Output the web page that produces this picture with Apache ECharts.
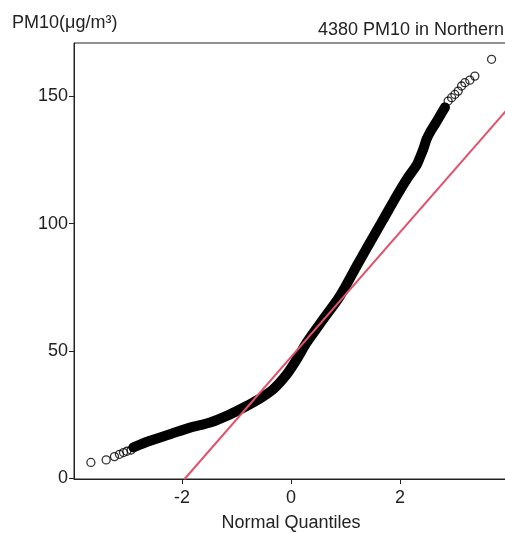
<!DOCTYPE html>
<html>
<head>
<meta charset="utf-8">
<script src="https://cdn.jsdelivr.net/npm/echarts@6/dist/echarts.min.js"></script>
<style>
  html, body { margin: 0; padding: 0; background: #fff; }
  #chart { width: 505px; height: 533px; }
</style>
</head>
<body>
<div id="chart"></div>
<script>
// theoretical normal quantiles (x) and sorted PM10 values (y)
const lowTailQ = [-3.675, -3.394, -3.242, -3.150, -3.077, -3.015, -2.936]
const lowTailPM = [6.2, 7.2, 8.5, 9.4, 10.1, 10.6, 11.1]

const bandQ = [-2.894, -2.587, -2.220, -1.853, -1.486, -1.119, -0.813, -0.569, -0.325, -0.079,
  0.105, 0.288, 0.593, 0.899, 1.206, 1.450, 1.694, 1.939, 2.123, 2.306, 2.354,
  2.428, 2.490, 2.550, 2.642, 2.734, 2.826]
const bandPM = [12.1, 14.7, 17.3, 19.9, 21.9, 25.1, 28.4, 31.3, 35.0, 40.8,
  46.7, 53.3, 62.5, 71.6, 83.4, 92.6, 101.7, 110.9, 117.4, 123.0, 125.3,
  129.2, 133.2, 135.8, 139.0, 142.3, 145.7]

const highTailQ = [2.886, 2.949, 3.009, 3.070, 3.132, 3.193, 3.284, 3.376, 3.683]
const highTailPM = [148.2, 149.5, 150.8, 152.1, 154.1, 155.4, 156.4, 158.0, 164.6]

// qqline end points
const lineQ = [-1.959, 3.985]
const linePM = [-0.4, 145.2]

const xTicks = [-2, 0, 2]
const yTicks = [0, 50, 100, 150]

const zip = (a, b) => a.map((v, i) => [v, b[i]])

const allPoints = zip(lowTailQ, lowTailPM)
  .concat(zip(bandQ, bandPM))
  .concat(zip(highTailQ, highTailPM))

const font = 'Liberation Sans, Arial, sans-serif'
const ink = '#222'

const chart = echarts.init(document.getElementById('chart'), null, { renderer: 'canvas' })

chart.setOption({
  animation: false,
  backgroundColor: '#fff',
  title: [
    {
      text: 'PM10(μg/m³)',
      left: 12,
      top: 14,
      padding: 0,
      textStyle: { fontFamily: font, fontSize: 18, fontWeight: 'normal', color: ink }
    },
    {
      text: '4380 PM10 in Northern',
      left: 318,
      top: 21,
      padding: 0,
      textStyle: { fontFamily: font, fontSize: 18, fontWeight: 'normal', color: ink }
    }
  ],
  grid: {
    left: 74,
    top: 43,
    width: 434,
    height: 436,
    show: true,
    borderColor: ink,
    borderWidth: 1,
    containLabel: false,
    outerBoundsMode: 'none'
  },
  xAxis: {
    type: 'value',
    min: -3.985,
    max: 3.985,
    name: 'Normal Quantiles',
    nameLocation: 'middle',
    nameGap: 35,
    nameTextStyle: { fontFamily: font, fontSize: 18, color: ink },
    splitLine: { show: false },
    axisLine: { show: true, onZero: false, lineStyle: { color: ink, width: 1 } },
    axisTick: { show: true, length: 5, customValues: xTicks, lineStyle: { color: ink } },
    axisLabel: { customValues: xTicks, margin: 10, fontFamily: font, fontSize: 18, color: ink }
  },
  yAxis: {
    type: 'value',
    min: -0.3,
    max: 171,
    splitLine: { show: false },
    axisLine: { show: true, onZero: false, lineStyle: { color: ink, width: 1 } },
    axisTick: { show: true, length: 5, customValues: yTicks, lineStyle: { color: ink } },
    axisLabel: { customValues: yTicks, margin: 6, fontFamily: font, fontSize: 18, color: ink }
  },
  series: [
    {
      // dense overlap of the 4380 circles
      type: 'line',
      data: zip(bandQ, bandPM),
      symbol: 'none',
      smooth: 0.3,
      lineStyle: { color: '#000', width: 10, cap: 'round', join: 'round' },
      z: 2
    },
    {
      type: 'scatter',
      data: allPoints,
      symbol: 'circle',
      symbolSize: 8,
      itemStyle: { color: 'rgba(0,0,0,0)', borderColor: '#000', borderWidth: 1.3 },
      z: 3
    },
    {
      type: 'line',
      data: zip(lineQ, linePM),
      symbol: 'none',
      lineStyle: { color: '#DF536B', width: 2 },
      z: 4
    }
  ]
})
</script>
</body>
</html>
